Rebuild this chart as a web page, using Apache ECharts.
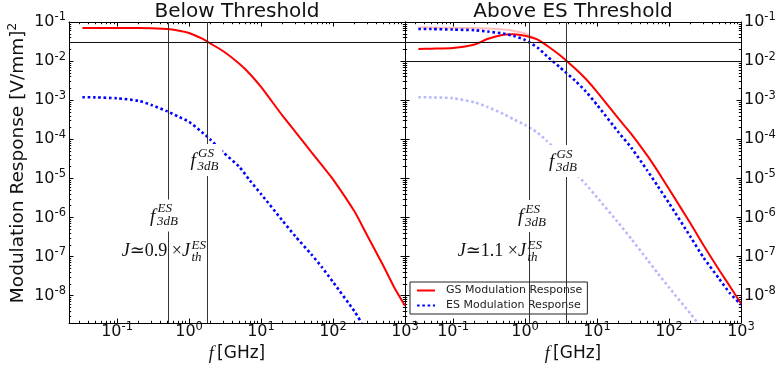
<!DOCTYPE html>
<html><head><meta charset="utf-8">
<script src="https://cdn.jsdelivr.net/npm/echarts@6/dist/echarts.min.js"></script>
<style>html,body{margin:0;padding:0;background:#fff}#c{width:782px;height:368px}</style>
</head><body><div id="c"></div>
<script>
// ---------- data ----------
const FREQ = [0.033,0.05,0.1,0.2,0.3,0.5,0.7,1,1.5,2,3,5,7,10,20,30,50,70,100,200,300,500,700,1000];
const GS_BELOW = [0.0703,0.0703,0.0700,0.0700,0.0690,0.0662,0.0607,0.0524,0.0379,0.0279,0.0178,0.00851,0.00469,0.00218,3.96e-4,1.55e-4,4.72e-5,2.18e-5,9.46e-6,1.40e-6,3.41e-7,5.83e-8,1.70e-8,5.54e-9];
const ES_BELOW_FREQ = [0.033,0.05,0.1,0.2,0.3,0.5,0.7,1,1.5,2,3,5,7,10,20,30,50,70,100,200,250];
const ES_BELOW = [1.19e-3,1.18e-3,1.12e-3,9.6e-4,7.57e-4,5.16e-4,3.85e-4,2.79e-4,1.54e-4,9.66e-5,4.60e-5,1.97e-5,8.81e-6,3.98e-6,8.18e-7,3.29e-7,1.14e-7,5.37e-8,2.24e-8,3.90e-9,2.0e-9];
const GS_ABOVE = [0.0204,0.0208,0.0217,0.0266,0.0368,0.0474,0.0488,0.0444,0.0353,0.0251,0.0145,6.34e-3,3.48e-3,1.64e-3,3.33e-4,1.36e-4,3.81e-5,1.51e-5,5.35e-6,6.90e-7,1.97e-7,4.45e-8,1.75e-8,6.24e-9];
const ES_ABOVE = [0.0662,0.0660,0.0640,0.0617,0.0571,0.0506,0.0439,0.0347,0.0220,0.0135,7.13e-3,3.11e-3,1.66e-3,7.6e-4,1.49e-4,6.04e-5,1.58e-5,6.27e-6,2.33e-6,3.14e-7,9.57e-8,2.66e-8,1.16e-8,5.87e-9];
const FADED_GS_FREQ = [0.033,0.05,0.1,0.2,0.3,0.5,0.7,1,1.5,2];
const FADED_GS = [0.072,0.072,0.071,0.070,0.068,0.064,0.059,0.051,0.0355,0.0251];
const FADED_ES_FREQ = [0.033,0.05,0.1,0.2,0.3,0.5,0.7,1,1.5,2,3,5,7,10,20,30,50,70,100,200,250];
const FADED_ES = [1.19e-3,1.18e-3,1.13e-3,8.77e-4,6.73e-4,4.46e-4,3.23e-4,2.33e-4,1.46e-4,9.12e-5,4.35e-5,1.40e-5,7.01e-6,3.28e-6,7.11e-7,2.82e-7,8.30e-8,3.71e-8,1.62e-8,3.40e-9,2.0e-9];
// reference lines
const H_LINES_BELOW = [0.0327, 5.1e-4];
const V_LINES_BELOW = [0.511, 1.80];
const H_LINES_ABOVE = [0.0327, 0.01026];
const V_LINES_ABOVE = [1.125, 3.79];
// axes
const X_RANGE = [0.0215, 1000];
const Y_RANGE = [2e-9, 0.1];
const MINOR_X = [0.03,0.04,0.05,0.06,0.07,0.08,0.09,0.2,0.3,0.4,0.5,0.6,0.7,0.8,0.9,2,3,4,5,6,7,8,9,20,30,40,50,60,70,80,90,200,300,400,500,600,700,800,900];
const MINOR_Y = [3e-9,4e-9,5e-9,6e-9,7e-9,8e-9,9e-9,2e-8,3e-8,4e-8,5e-8,6e-8,7e-8,8e-8,9e-8,2e-7,3e-7,4e-7,5e-7,6e-7,7e-7,8e-7,9e-7,2e-6,3e-6,4e-6,5e-6,6e-6,7e-6,8e-6,9e-6,2e-5,3e-5,4e-5,5e-5,6e-5,7e-5,8e-5,9e-5,2e-4,3e-4,4e-4,5e-4,6e-4,7e-4,8e-4,9e-4,2e-3,3e-3,4e-3,5e-3,6e-3,7e-3,8e-3,9e-3,0.02,0.03,0.04,0.05,0.06,0.07,0.08,0.09];
const TITLES = ['Below Threshold', 'Above ES Threshold'];
const SERIES_NAMES = ['GS Modulation Response', 'ES Modulation Response'];

// ---------- layout ----------
const GRIDS = [{left:69, top:22, width:336, height:301}, {left:405, top:22, width:336, height:301}];
const SANS = '"DejaVu Sans", sans-serif';
const SERIF = '"Liberation Serif", "DejaVu Serif", serif';
const TXT = '#111';
const RICH = {
  b: {fontSize:16, fontFamily:SANS, color:TXT, lineHeight:16},
  s: {fontSize:11.5, fontFamily:SANS, color:TXT, lineHeight:12, padding:[0,0,9,0]}
};
function expLabel(v){ const e = Math.round(Math.log10(v)); return '{b|10}{s|' + e + '}'; }

function logAxis(dim, gridIndex, position, showLabel){
  const r = dim === 'x' ? X_RANGE : Y_RANGE;
  return {type:'log', logBase:10, gridIndex, position, min:r[0], max:r[1],
    axisLine:{show:true, onZero:false, lineStyle:{color:'#000', width:1}},
    axisTick:{show:true, inside:true, length:4.5, lineStyle:{color:'#000', width:1}},
    axisLabel:{show:showLabel, formatter:expLabel, rich:RICH, margin: dim==='x'?1:3, showMinLabel:false, showMaxLabel:true},
    splitLine:{show:false}, minorTick:{show:false}};
}
function minorAxis(dim, gridIndex, position){
  const r = dim === 'x' ? X_RANGE : Y_RANGE;
  const m = dim === 'x' ? MINOR_X : MINOR_Y;
  return {type:'value', gridIndex, position, min:Math.log10(r[0]), max:Math.log10(r[1]),
    axisLine:{show:false, onZero:false}, axisLabel:{show:false}, splitLine:{show:false},
    axisTick:{show:true, inside:true, length:2.2, customValues:m.map(v=>Math.log10(v)), lineStyle:{color:'#000', width:1}}};
}
const xAxis = [
  logAxis('x',0,'bottom',true), logAxis('x',0,'top',false), minorAxis('x',0,'bottom'), minorAxis('x',0,'top'),
  logAxis('x',1,'bottom',true), logAxis('x',1,'top',false), minorAxis('x',1,'bottom'), minorAxis('x',1,'top')
];
const yAxis = [
  logAxis('y',0,'left',true), logAxis('y',0,'right',false), minorAxis('y',0,'left'), minorAxis('y',0,'right'),
  logAxis('y',1,'left',false), logAxis('y',1,'right',true), minorAxis('y',1,'left'), minorAxis('y',1,'right')
];

function pairs(fs, vs){ return fs.map((f,i)=>[f, vs[i]]); }
function refLines(h, v){
  return {silent:true, symbol:'none', animation:false, label:{show:false}, emphasis:{disabled:true},
    data: h.map(y=>({yAxis:y, lineStyle:{color:'#111', width:1, type:'solid'}}))
      .concat(v.map(x=>({xAxis:x, lineStyle:{color:'#333', width:1, type:'solid'}})))};
}
const RED = '#ff0000', BLUE = '#0000ff';
const dotted = {color:BLUE, width:2.6, type:[2.6,2.7], cap:'butt'};
const common = {type:'line', showSymbol:false, symbol:'none', smooth:0.2, clip:true, emphasis:{disabled:true}, silent:true};

const series = [
  Object.assign({}, common, {name:SERIES_NAMES[0], xAxisIndex:0, yAxisIndex:0, data:pairs(FREQ, GS_BELOW),
    lineStyle:{color:RED, width:2}, itemStyle:{color:RED, opacity:0}, markLine:refLines(H_LINES_BELOW, V_LINES_BELOW)}),
  Object.assign({}, common, {name:SERIES_NAMES[1], xAxisIndex:0, yAxisIndex:0, data:pairs(ES_BELOW_FREQ, ES_BELOW),
    lineStyle:dotted, itemStyle:{color:BLUE, opacity:0}}),
  Object.assign({}, common, {name:'GS faded', xAxisIndex:4, yAxisIndex:5, data:pairs(FADED_GS_FREQ, FADED_GS),
    lineStyle:{color:'rgba(255,0,0,0.25)', width:2}, z:1}),
  Object.assign({}, common, {name:'ES faded', xAxisIndex:4, yAxisIndex:5, data:pairs(FADED_ES_FREQ, FADED_ES),
    lineStyle:Object.assign({}, dotted, {color:'rgba(0,0,255,0.28)'}), z:1}),
  Object.assign({}, common, {name:SERIES_NAMES[0], xAxisIndex:4, yAxisIndex:5, data:pairs(FREQ, GS_ABOVE),
    lineStyle:{color:RED, width:2}, itemStyle:{color:RED, opacity:0}, markLine:refLines(H_LINES_ABOVE, V_LINES_ABOVE)}),
  Object.assign({}, common, {name:SERIES_NAMES[1], xAxisIndex:4, yAxisIndex:5, data:pairs(FREQ, ES_ABOVE),
    lineStyle:dotted, itemStyle:{color:BLUE, opacity:0}})
];

// ---------- annotation text ----------
function fLabel(fx, fy, sup){
  return {type:'group', z:50, children:[
    {type:'rect', shape:{x:fx-3, y:fy-17, width:35, height:32}, style:{fill:'#fff'}, z:50},
    {type:'text', x:fx, y:fy, z:51, style:{text:'f', font:'italic 19px '+SERIF, fill:TXT, align:'left', verticalAlign:'middle'}},
    {type:'text', x:fx+7.5, y:fy-7.5, z:51, style:{text:sup, font:'italic 13px '+SERIF, fill:TXT, align:'left', verticalAlign:'middle'}},
    {type:'text', x:fx+7, y:fy+5.5, z:51, style:{text:'3dB', font:'italic 13px '+SERIF, fill:TXT, align:'left', verticalAlign:'middle'}}
  ]};
}
function jLabel(rx, y, factor){
  return {type:'group', z:50, children:[
    {type:'text', x:rx, y:y, z:51, style:{text:'{i|J}{n|≃' + factor + ' ×}{i|J}', align:'right', verticalAlign:'middle',
      rich:{i:{font:'italic 18px '+SERIF, fill:TXT}, n:{font:'18px '+SERIF, fill:TXT}}}},
    {type:'text', x:rx+1.5, y:y-5.5, z:51, style:{text:'ES', font:'italic 13px '+SERIF, fill:TXT, align:'left', verticalAlign:'middle'}},
    {type:'text', x:rx+1.5, y:y+6.5, z:51, style:{text:'th', font:'italic 13px '+SERIF, fill:TXT, align:'left', verticalAlign:'middle'}}
  ]};
}
const graphic = [
  {type:'text', x:237, y:12, style:{text:TITLES[0], font:'20px '+SANS, fill:TXT, align:'center', verticalAlign:'middle'}},
  {type:'text', x:573, y:12, style:{text:TITLES[1], font:'20px '+SANS, fill:TXT, align:'center', verticalAlign:'middle'}},
  {type:'text', x:18, y:163, rotation:Math.PI/2, style:{text:'{a|Modulation Response [V/mm]}{s|2}', align:'center', verticalAlign:'middle',
    rich:{a:{font:'18.5px '+SANS, fill:TXT, lineHeight:20}, s:{font:'12px '+SANS, fill:TXT, lineHeight:12, padding:[0,0,10,0]}}}},
  {type:'text', x:237, y:354, style:{text:'{i|f} {a|[GHz]}', align:'center', verticalAlign:'middle',
    rich:{i:{font:'italic 18px '+SERIF, fill:TXT}, a:{font:'17px '+SANS, fill:TXT}}}},
  {type:'text', x:573, y:354, style:{text:'{i|f} {a|[GHz]}', align:'center', verticalAlign:'middle',
    rich:{i:{font:'italic 18px '+SERIF, fill:TXT}, a:{font:'17px '+SANS, fill:TXT}}}},
  fLabel(190.5, 161, 'GS'), fLabel(150, 216.5, 'ES'), fLabel(549, 162, 'GS'), fLabel(518, 217, 'ES'),
  jLabel(190, 251, '0.9'), jLabel(526, 251, '1.1')
];

const chart = echarts.init(document.getElementById('c'), null, {renderer:'canvas'});
chart.setOption({
  animation:false,
  backgroundColor:'#fff',
  grid: GRIDS.map(g=>Object.assign({containLabel:false}, g)),
  xAxis, yAxis, series, graphic,
  legend:{show:true, left:410, top:282, orient:'vertical', data:SERIES_NAMES, selectedMode:false,
    itemWidth:18, itemHeight:12, itemGap:4, padding:[3,5,3,6], borderColor:'#222', borderWidth:1, backgroundColor:'#fff',
    itemStyle:{opacity:0},
    textStyle:{fontSize:11, fontFamily:SANS, color:'#222', padding:[0,0,0,6]}}
});
</script></body></html>
